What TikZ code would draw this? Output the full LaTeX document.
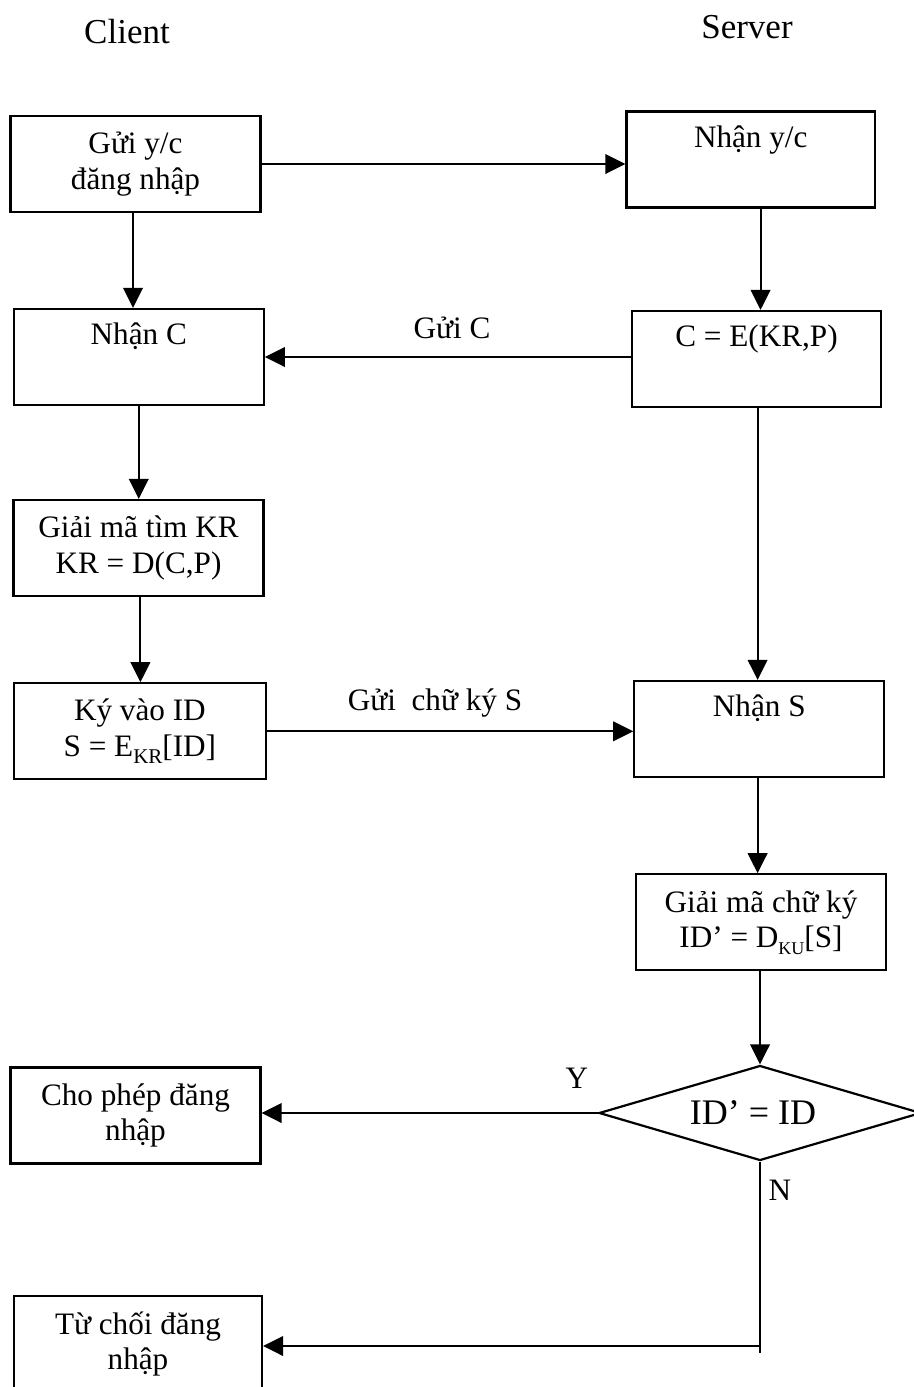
\documentclass[tikz,border=0pt]{standalone}
\usepackage{fontspec}
\setmainfont{Liberation Serif}
\usetikzlibrary{shapes.geometric,arrows.meta}
% lowered, smaller index text: size, drop, text
\newcommand{\lowsub}[3]{\raisebox{-#2}{\fontsize{#1}{#1}\selectfont #3}}
\begin{document}
\begin{tikzpicture}[x=0.5pt,y=-0.5pt,
  every node/.style={font=\fontsize{15.6pt}{17.8pt}\selectfont},
  stepbox/.style={draw, line width=1.1pt, minimum width=125pt, minimum height=48pt,
    inner sep=0pt, align=center},
  decision/.style={draw, diamond, line width=1.1pt, minimum width=161pt,
    minimum height=47.5pt, inner sep=0pt, aspect=3.4,
    font=\fontsize{18pt}{20pt}\selectfont},
  flow/.style={line width=0.95pt, -{Triangle[length=10pt,width=9.8pt]}},
  plain/.style={line width=0.95pt},
  lbl/.style={anchor=base, inner sep=0pt},
  head/.style={anchor=base, inner sep=0pt, font=\fontsize{17.5pt}{20pt}\selectfont}]
\useasboundingbox (0,0) rectangle (914,1387);
\clip (0,0) rectangle (914,1387);

% column headings
\node[head] (client) at (127,43) {Client};
\node[head] (server) at (747,38) {Server};

% client side
\node[stepbox] (A) at (135.5,164) {Gửi y/c\\đăng nhập};
\node[stepbox] (C) at (138.75,357) {Nhận C\\\strut};
\node[stepbox] (E) at (138.5,548) {Giải mã tìm KR\\KR = D(C,P)};
\node[stepbox, minimum width=126pt] (F) at (139.9,731.3) {Ký vào ID\\S = E\lowsub{10.5pt}{3.6pt}{KR}[ID]};
\node[stepbox] (I) at (135.5,1115.5) {Cho phép đăng\\nhập};
\node[stepbox, minimum width=124pt] (J) at (138,1344) {Từ chối đăng\\nhập};

% server side
\node[stepbox, minimum width=124.25pt] (B) at (750.75,159.5) {Nhận y/c\\\strut};
\node[stepbox, minimum width=124.5pt] (D) at (756.5,359) {C = E(KR,P)\\\strut};
\node[stepbox] (G) at (759.3,729) {Nhận S\\\strut};
\node[stepbox] (H) at (761,922.3) {Giải mã chữ ký\\ID’ = D\lowsub{9pt}{3.2pt}{KU}[S]};
\node[decision] (dec) at (760,1113) {\hspace*{-7pt}ID’ = ID};

% connector labels
\node[lbl] (lgc) at (452,338) {Gửi C};
\node[lbl] (lgs) at (435,710) {Gửi\ \ chữ ký S};
\node[lbl] (ly) at (577,1088) {Y};
\node[lbl] (ln) at (780,1200) {N};

% connectors
\draw[flow] (A.east) -- (A.east -| B.west);
\draw[flow] ([xshift=-1.25pt]A.south) -- ([xshift=-1.25pt]A.south |- C.north);
\draw[flow] ([xshift=4.9pt]B.south) -- ([xshift=4.9pt]B.south |- D.north);
\draw[flow] (D.west |- C.east) -- (C.east);
\draw[flow] (C.south) -- (C.south |- E.north);
\draw[flow] ([xshift=0.95pt]E.south) -- ([xshift=0.95pt]E.south |- F.north);
\draw[flow] ([xshift=0.55pt]D.south) -- ([xshift=0.55pt]D.south |- G.north);
\draw[flow] (F.east) -- (F.east -| G.west);
\draw[flow] ([xshift=-0.85pt]G.south) -- ([xshift=-0.85pt]G.south |- H.north);
\draw[flow] (H.south -| dec.north) -- (dec.north);
\draw[flow] (dec.west) -- (dec.west -| I.east);
\coordinate (nend) at (760,1353);
\coordinate (nturn) at (760,1346);
\draw[plain] (dec.south) -- (nend);
\draw[flow] (nturn) -- (nturn -| J.east);
\end{tikzpicture}
\end{document}
